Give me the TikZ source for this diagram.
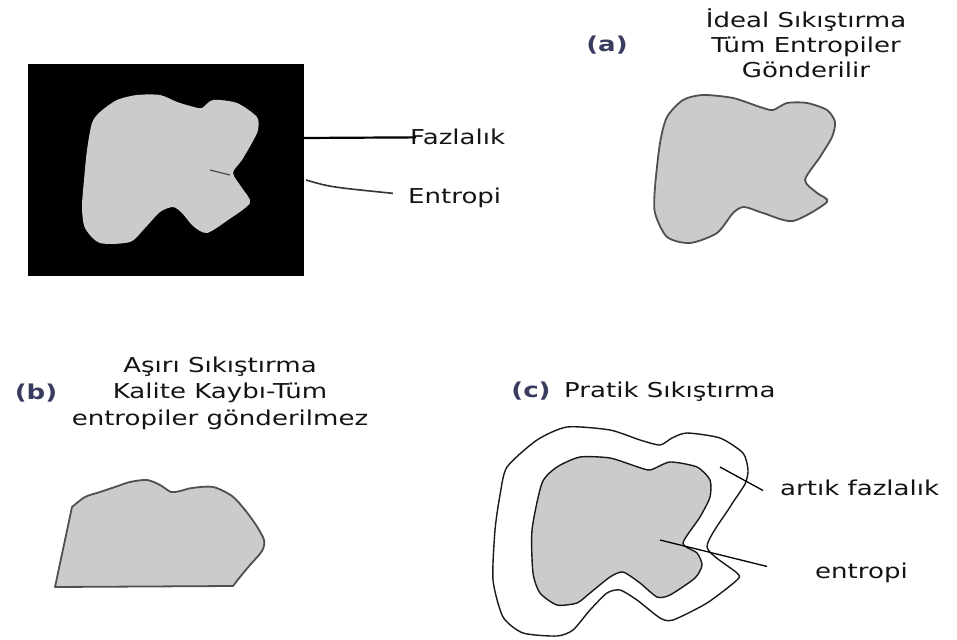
\documentclass[tikz,border=0pt]{standalone}
\usepackage{fontspec}
\setmainfont{DejaVu Sans}[FakeStretch=1.27]
\definecolor{txt}{RGB}{20,20,20}
\definecolor{tag}{RGB}{58,60,95}
\definecolor{blob}{RGB}{203,203,203}
\definecolor{edge}{RGB}{80,80,80}
\tikzset{
  lbl/.style={font=\fontsize{20.5}{25}\selectfont, text=txt, inner sep=0pt, anchor=base},
  lblw/.style={lbl, anchor=base west},
  tagl/.style={lbl, font=\fontsize{20.5}{25}\selectfont\bfseries, text=tag},
  blobshape/.style={fill=blob, draw=edge, line width=1.8pt, line join=round},
  outline/.style={draw=black!90, line width=1.4pt, line join=round},
  lead/.style={draw=black, line width=1.3pt},
}
\begin{document}
\begin{tikzpicture}[x=1pt,y=-1pt]
\useasboundingbox (0,0) rectangle (957,639);
\fill[white] (0,0) rectangle (957,639);

% ---------- black box with entropy blob ----------
\node[fill=black, inner sep=0pt, minimum width=276pt, minimum height=212pt, anchor=north west] (box) at (28,64) {};
\fill[blob] plot[smooth cycle, tension=0.45] coordinates {
  (92,123) (100,112) (117,100) (137,95) (160,95) (177,102) (194,107) (202,108)
  (213,100) (237,103) (257,117) (258,130) (253,141) (242,160) (233,173)
  (242,188) (250,203) (228,220) (207,233) (193,226) (182,213) (173,207)
  (160,212) (145,228) (130,242) (100,243) (85,228) (82,207) (84,180) (87,150)};
\coordinate (boxEntA) at (210,170);
\coordinate (boxEntB) at (230,175);
\draw[draw=edge, line width=1.3pt] (boxEntA) -- (boxEntB);

\node[lblw] (fazla) at (410,145) {Fazlalık};
\node[lblw] (entA) at (408,203) {Entropi};
\coordinate (fzStart) at (303,138);
\draw[draw=black, line width=2.2pt] (fzStart) -- ([xshift=6pt]fazla.west);
\coordinate (enStart) at (306,180);
\coordinate (enEnd) at ([xshift=-15pt, yshift=4pt]entA.west);
\draw[draw=black!80, line width=1.6pt] (enStart) .. controls (330,187) .. (enEnd);

% ---------- (a) ----------
\node[tagl] (tagA) at (607,52) {(a)};
\node[lbl] (ha1) at (806,28) {İdeal Sıkıştırma};
\node[lbl] (ha2) at (806,53) {Tüm Entropiler};
\node[lbl] (ha3) at (806,78) {Gönderilir};
\filldraw[blobshape] plot[smooth cycle, tension=0.45] coordinates {
  (660,143) (667,117) (683,100) (703,95) (733,98) (760,107) (773,110)
  (787,103) (807,103) (827,110) (835,122) (832,137) (820,157) (805,180)
  (817,193) (827,202) (793,221) (763,213) (744,207) (733,213) (717,233)
  (690,243) (667,237) (655,213) (655,187)};

% ---------- (b) ----------
\node[tagl] (tagB) at (36,399) {(b)};
\node[lbl] (hb1) at (220,372) {Aşırı Sıkıştırma};
\node[lbl] (hb2) at (220,398) {Kalite Kaybı-Tüm};
\node[lbl] (hb3) at (220,425) {entropiler gönderilmez};
\filldraw[blobshape] (55,587) -- plot[smooth, tension=0.5] coordinates {
  (72,507) (85,497) (100,492) (115,487) (130,482) (147,480) (160,485)
  (171,492) (180,491) (192,488) (213,487) (232,496) (245,510) (256,525)
  (264,540) (262,551) (250,565) (240,577) (233,586)} -- cycle;

% ---------- (c) ----------
\node[tagl] (tagC) at (531,397) {(c)};
\node[lblw] (hc) at (564,397) {Pratik Sıkıştırma};
\draw[outline, fill=white] plot[smooth cycle, tension=0.4] coordinates {
  (507,467) (537,440) (567,427) (610,430) (640,440) (660,445) (672,438)
  (687,433) (720,438) (743,453) (748,470) (745,484) (730,507) (707,547)
  (737,573) (737,580) (707,603) (673,620) (660,618) (637,600) (620,590)
  (607,593) (590,610) (573,630) (557,636) (523,633) (503,617) (493,580)
  (495,530) (500,495)};
\draw[outline, fill=blob] plot[smooth cycle, tension=0.4] coordinates {
  (542,483) (557,467) (580,457) (610,458) (635,466) (650,470) (670,462)
  (697,467) (710,480) (710,497) (700,517) (683,543) (697,553) (702,565)
  (695,578) (670,595) (657,597) (640,583) (623,572) (610,577) (590,593)
  (577,603) (557,605) (540,593) (533,573) (532,530)};
\node[lblw] (artik) at (780,495) {artık fazlalık};
\node[lblw] (entC) at (815,578) {entropi};
\coordinate (arStart) at (720,467);
\coordinate (arEnd) at ([xshift=-17pt, yshift=5pt]artik.south west);
\draw[lead] (arStart) -- (arEnd);
\coordinate (ecStart) at (660,540);
\coordinate (ecEnd) at ([xshift=-48pt, yshift=16pt]entC.south west);
\draw[lead] (ecStart) -- (ecEnd);
\end{tikzpicture}
\end{document}
